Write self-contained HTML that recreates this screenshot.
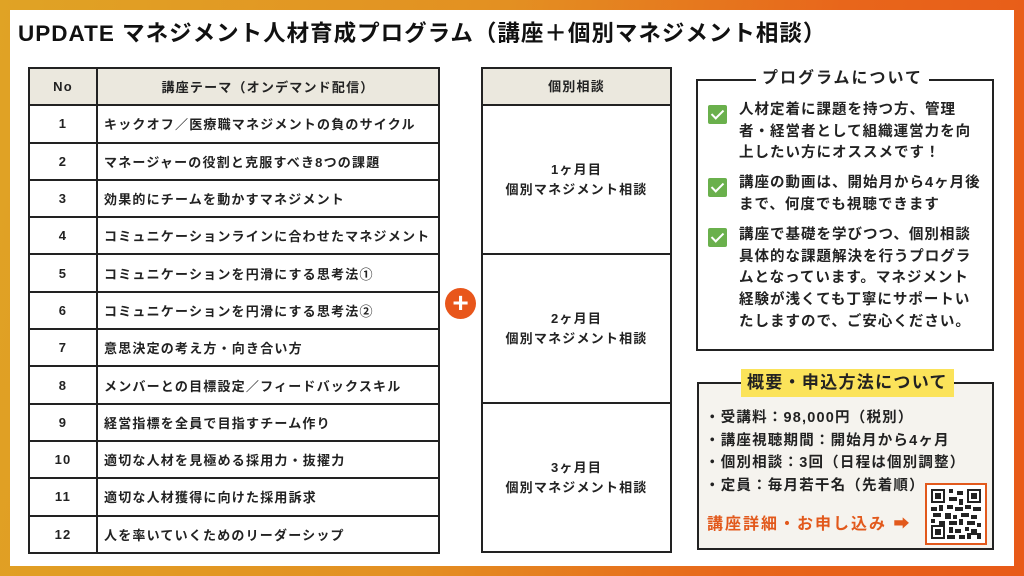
<!DOCTYPE html>
<html><head><meta charset="utf-8"><style>
*{margin:0;padding:0;box-sizing:border-box}
body{width:1024px;height:576px;overflow:hidden;position:relative;font-family:"Liberation Sans","Noto Sans CJK JP",sans-serif;color:#222;background:linear-gradient(100deg,#e0a325 0%,#e39022 45%,#e8661b 75%,#e85a18 100%)}
.panel{position:absolute;left:10px;top:10px;width:1004px;height:556px;background:#fff}
.abs{position:absolute}
.title{left:18px;top:16px;font-size:22.5px;font-weight:700;color:#111;white-space:nowrap;letter-spacing:1px}
table{border-collapse:collapse;position:absolute}
td{border:2px solid #222;font-size:13px;font-weight:700;height:37.3px;letter-spacing:1.2px;white-space:nowrap}
.hd td{background:#ebe8de;text-align:center}
.no{width:68px;text-align:center}
.th{padding-left:6px}
.m td{text-align:center;line-height:20px}
.plus{left:445px;top:288px;width:31px;height:31px;border-radius:50%;background:#e8561b;color:#fff;font-size:28px;font-weight:700;line-height:29px;text-align:center}
.box1{left:696px;top:79px;width:298px;height:272px;border:2px solid #222}
.box1 .lbl{position:absolute;left:58px;top:-14px;background:#fff;padding:0 6px;font-size:16px;font-weight:700;line-height:24px;letter-spacing:2px}
.item{position:absolute;left:41px;font-size:14.5px;font-weight:700;line-height:21.7px;letter-spacing:1px;white-space:nowrap}
.chk{position:absolute;left:10px;width:19px;height:19px;background:#6ab04c;border-radius:2px}
.chk:after{content:"";position:absolute;left:6px;top:2px;width:5px;height:10px;border:solid #fff;border-width:0 2.5px 2.5px 0;transform:rotate(45deg)}
.box2{left:697px;top:382px;width:297px;height:168px;border:2px solid #222;background:#f5f3ee}
.box2 .lbl{position:absolute;left:42px;top:-15px;background:#fbe35a;padding:0 6px;font-size:17px;font-weight:700;line-height:28px;letter-spacing:1.3px}
.li{position:absolute;left:6px;font-size:14.5px;font-weight:700;line-height:22.5px;letter-spacing:1.2px;white-space:nowrap}
.cta{position:absolute;left:8px;top:126px;font-size:16px;font-weight:700;color:#e2591c;letter-spacing:2px;white-space:nowrap}
.qr{position:absolute;left:226px;top:99px;width:62px;height:62px;border:2px solid #e2591c;background:#fff;padding:4px}
</style></head><body>
<div class="panel"></div>
<div class="abs title">UPDATE マネジメント人材育成プログラム（講座＋個別マネジメント相談）</div>
<table style="left:28px;top:67px;width:412px">
<tr class="hd"><td class="no">No</td><td>講座テーマ（オンデマンド配信）</td></tr>
<tr><td class="no">1</td><td class="th">キックオフ／医療職マネジメントの負のサイクル</td></tr>
<tr><td class="no">2</td><td class="th">マネージャーの役割と克服すべき8つの課題</td></tr>
<tr><td class="no">3</td><td class="th">効果的にチームを動かすマネジメント</td></tr>
<tr><td class="no">4</td><td class="th">コミュニケーションラインに合わせたマネジメント</td></tr>
<tr><td class="no">5</td><td class="th">コミュニケーションを円滑にする思考法①</td></tr>
<tr><td class="no">6</td><td class="th">コミュニケーションを円滑にする思考法②</td></tr>
<tr><td class="no">7</td><td class="th">意思決定の考え方・向き合い方</td></tr>
<tr><td class="no">8</td><td class="th">メンバーとの目標設定／フィードバックスキル</td></tr>
<tr><td class="no">9</td><td class="th">経営指標を全員で目指すチーム作り</td></tr>
<tr><td class="no">10</td><td class="th">適切な人材を見極める採用力・抜擢力</td></tr>
<tr><td class="no">11</td><td class="th">適切な人材獲得に向けた採用訴求</td></tr>
<tr><td class="no">12</td><td class="th">人を率いていくためのリーダーシップ</td></tr>
</table>
<table class="m" style="left:481px;top:67px;width:191px">
<tr class="hd"><td>個別相談</td></tr>
<tr><td style="height:149px">1ヶ月目<br>個別マネジメント相談</td></tr>
<tr><td style="height:149px">2ヶ月目<br>個別マネジメント相談</td></tr>
<tr><td style="height:149px">3ヶ月目<br>個別マネジメント相談</td></tr>
</table>
<div class="abs plus">+</div>
<div class="abs box1">
<div class="lbl">プログラムについて</div>
<div class="chk" style="top:24px"></div>
<div class="item" style="top:19px">人材定着に課題を持つ方、管理<br>者・経営者として組織運営力を向<br>上したい方にオススメです！</div>
<div class="chk" style="top:97px"></div>
<div class="item" style="top:92px">講座の動画は、開始月から4ヶ月後<br>まで、何度でも視聴できます</div>
<div class="chk" style="top:147px"></div>
<div class="item" style="top:144px">講座で基礎を学びつつ、個別相談<br>具体的な課題解決を行うプログラ<br>ムとなっています。マネジメント<br>経験が浅くても丁寧にサポートい<br>たしますので、ご安心ください。</div>
</div>
<div class="abs box2">
<div class="lbl">概要・申込方法について</div>
<div class="li" style="top:23px">・受講料：98,000円（税別）</div>
<div class="li" style="top:45.5px">・講座視聴期間：開始月から4ヶ月</div>
<div class="li" style="top:68px">・個別相談：3回（日程は個別調整）</div>
<div class="li" style="top:90.5px">・定員：毎月若干名（先着順）</div>
<div class="cta">講座詳細・お申し込み ➡</div>
<div class="qr"><svg width="50" height="50" viewBox="0 0 25 25" shape-rendering="crispEdges"><rect x="0" y="0" width="7" height="7" fill="#222"/><rect x="1" y="1" width="5" height="5" fill="#fff"/><rect x="2" y="2" width="3" height="3" fill="#222"/><rect x="18" y="0" width="7" height="7" fill="#222"/><rect x="19" y="1" width="5" height="5" fill="#fff"/><rect x="20" y="2" width="3" height="3" fill="#222"/><rect x="0" y="18" width="7" height="7" fill="#222"/><rect x="1" y="19" width="5" height="5" fill="#fff"/><rect x="2" y="20" width="3" height="3" fill="#222"/><path fill="#222" d="M9 0h2v2H9zM13 1h3v2h-3zM9 4h4v2H9zM14 5h2v3h-2zM8 8h3v2H8zM0 9h3v2H0zM4 8h2v3H4zM12 9h4v2h-4zM17 8h3v2h-3zM21 9h4v2h-4zM1 12h4v2H1zM7 12h3v3H7zM11 13h2v2h-2zM15 12h4v2h-4zM20 13h3v2h-3zM0 15h2v2H0zM4 16h3v2H4zM9 16h4v2H9zM14 15h2v3h-2zM18 16h4v2h-4zM23 17h2v2h-2zM9 19h2v3H9zM12 20h3v2h-3zM17 19h2v2h-2zM20 20h3v3h-3zM8 23h4v2H8zM14 23h3v2h-3zM18 22h2v3h-2zM23 22h2v3h-2z"/></svg></div>
</div>
</body></html>
